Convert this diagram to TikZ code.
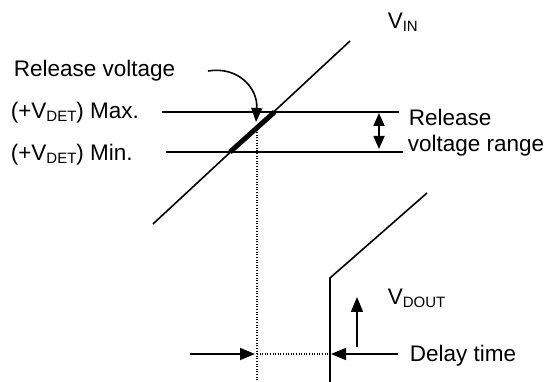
\documentclass[tikz,border=0pt]{standalone}
\usepackage{fontspec}
\setmainfont{Liberation Sans}
\usetikzlibrary{arrows.meta,calc,positioning}
\tikzset{lbl/.style={anchor=base west,inner sep=0pt,font=\fontsize{22.5}{26}\selectfont},
  tip/.style={-{Triangle[length=15pt,width=12pt]}},
  dots/.style={line width=1.1pt,dash pattern=on 1pt off 1.6pt}}
\newcommand{\lo}[1]{\raisebox{-3pt}{\fontsize{15}{18}\selectfont #1}}

\begin{document}
\begin{tikzpicture}[x=1pt,y=-1pt,line width=1.6pt]
\useasboundingbox (0,0) rectangle (547,382);
\coordinate (inA) at (153,224);\coordinate (inB) at (350,41);
\coordinate (maxL) at (162,112);\coordinate (maxR) at (399,112);
\coordinate (minL) at (166,152);\coordinate (minR) at (403,152);
\coordinate (maxX) at (274.5,112);\coordinate (minX) at (230,152);
\draw (inA)--(inB);
\draw (maxL)--(maxR);\draw (minL)--(minR);
\draw[line width=5pt] (minX)--(maxX);
\coordinate (relS) at (208,71);\coordinate (relT) at (256,122);
\draw[-{Triangle[length=14pt,width=11pt]}] (relS) .. controls (238,66) and (258,88) .. (relT);
\coordinate (rngT) at (379,113);\coordinate (rngB) at (379,149);
\draw[{Triangle[length=13pt,width=11pt]}-{Triangle[length=13pt,width=11pt]}] (rngT)--(rngB);
\coordinate (dtop) at (257,127);\coordinate (dbot) at (257,382);
\draw[dots] (dtop)--(dbot);
\coordinate (outB) at (330,382);\coordinate (outK) at (330,278);\coordinate (outT) at (427,193);
\draw (outB)--(outK)--(outT);
\coordinate (upB) at (357,347);\coordinate (upT) at (357,297);
\draw[tip] (upB)--(upT);
\coordinate (dL) at (190,354);\coordinate (dLt) at (255,354);
\coordinate (dR) at (398,354);\coordinate (dRt) at (331,354);
\draw[tip] (dL)--(dLt);\draw[tip] (dR)--(dRt);
\draw[dots] (dtop|-dL)--(outK|-dL);
\node[lbl] (vin) at (387,29) {V\lo{IN}};
\node[lbl] (rel) at (13,77) {Release voltage};
\node[lbl] (mx) at (10,119) {(+V\lo{DET}) Max.};
\node[lbl] (mn) at (10,161) {(+V\lo{DET}) Min.};
\node[lbl] (rr1) at (408,126) {Release};
\node[lbl] (rr2) at (407,152) {voltage range};
\node[lbl] (vout) at (387,305) {V\lo{DOUT}};
\node[lbl] (dly) at (409,362) {Delay time};
\end{tikzpicture}
\end{document}
